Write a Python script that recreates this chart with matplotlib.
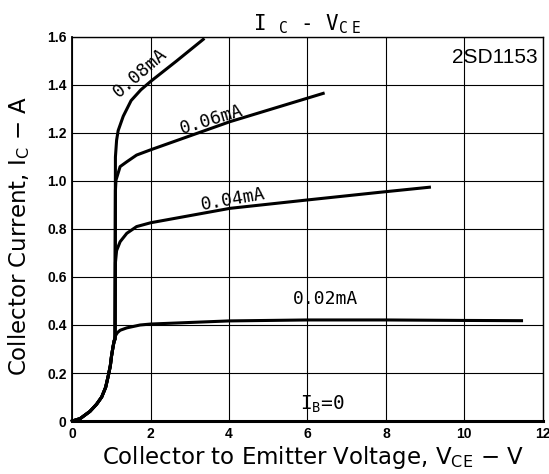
import matplotlib
matplotlib.use("Agg")
import matplotlib.pyplot as plt
import numpy as np

# common rising section (V, A)
trunk_v = [0.0, 0.2, 0.45, 0.62, 0.75, 0.85, 0.92, 0.97, 1.0, 1.04, 1.07]
trunk_i = [0.0, 0.01, 0.04, 0.07, 0.10, 0.14, 0.19, 0.23, 0.27, 0.31, 0.335]

ib02_v = [1.10, 1.15, 1.22, 1.39, 1.73, 2.0, 4.0, 6.0, 8.0, 10.0, 11.46]
ib02_i = [0.355, 0.368, 0.378, 0.388, 0.400, 0.404, 0.417, 0.421, 0.421, 0.419, 0.418]

ib04_v = [1.09, 1.10, 1.13, 1.22, 1.39, 1.64, 2.0, 4.02, 6.0, 7.85, 9.11]
ib04_i = [0.34, 0.66, 0.71, 0.747, 0.782, 0.81, 0.826, 0.886, 0.921, 0.953, 0.974]

ib06_v = [1.09, 1.10, 1.115, 1.22, 1.39, 1.64, 2.0, 4.02, 6.4]
ib06_i = [0.34, 0.96, 1.004, 1.06, 1.08, 1.108, 1.13, 1.247, 1.365]

ib08_v = [1.09, 1.10, 1.13, 1.17, 1.30, 1.50, 1.75, 2.0, 2.66, 3.34]
ib08_i = [0.34, 1.10, 1.17, 1.21, 1.27, 1.335, 1.38, 1.415, 1.50, 1.59]

curves = [
    (ib02_v, ib02_i),
    (ib04_v, ib04_i),
    (ib06_v, ib06_i),
    (ib08_v, ib08_i),
]

x_ticks = [0, 2, 4, 6, 8, 10, 12]
y_ticks = [0, 0.2, 0.4, 0.6, 0.8, 1.0, 1.2, 1.4, 1.6]
y_tick_labels = ["0", "0.2", "0.4", "0.6", "0.8", "1.0", "1.2", "1.4", "1.6"]

plt.rcParams["font.family"] = ["Liberation Sans", "DejaVu Sans"]

fig = plt.figure(figsize=(5.49, 4.74), dpi=100)
ax = fig.add_axes([0.1317, 0.1118, 0.8568, 0.8102])

ax.set_xlim(0, 12)
ax.set_ylim(0, 1.6)
ax.set_xticks(x_ticks)
ax.set_yticks(y_ticks)
ax.set_yticklabels(y_tick_labels)
ax.grid(True, color="black", linewidth=0.8)
ax.set_axisbelow(True)
ax.tick_params(length=0, pad=4, labelsize=10)
for lbl in ax.get_xticklabels() + ax.get_yticklabels():
    lbl.set_fontweight("bold")

for side in ["top", "right"]:
    ax.spines[side].set_linewidth(1.0)
ax.spines["left"].set_linewidth(1.3)
ax.spines["bottom"].set_linewidth(2.2)

for v, i in curves:
    ax.plot(trunk_v + v, trunk_i + i, color="black", linewidth=2.2,
            solid_joinstyle="round", clip_on=False)

mono = "DejaVu Sans Mono"
ax.text(1.72, 1.45, "0.08mA", rotation=41, fontsize=13, ha="center", va="center",
        family=mono)
ax.text(3.55, 1.255, "0.06mA", rotation=17, fontsize=13, ha="center", va="center",
        family=mono)
ax.text(4.1, 0.925, "0.04mA", rotation=10, fontsize=13, ha="center", va="center",
        family=mono)
ax.text(6.45, 0.51, "0.02mA", fontsize=13, ha="center", va="center", family=mono)
ax.text(6.37, 0.07, r"I$_\mathregular{B}$=0", fontsize=14, ha="center", va="center",
        family=mono)
ax.text(11.88, 1.515, "2SD1153", fontsize=15, ha="right", va="center")

ax.set_title(r"I $_\mathregular{C}$ - V$_\mathregular{C\ E}$", fontsize=15,
             family=mono, pad=5)
ax.set_xlabel(r"Collector to Emitter Voltage, V$_\mathregular{CE}$ $-$ V",
              fontsize=16.5, family="DejaVu Sans", va="top")
ax.set_ylabel(r"Collector Current, I$_\mathregular{C}$ $-$ A",
              fontsize=16.5, family="DejaVu Sans")
ax.xaxis.set_label_coords(0.511, -0.06)
ax.yaxis.set_label_coords(-0.086, 0.483)

fig.savefig("out.png", dpi=100)
